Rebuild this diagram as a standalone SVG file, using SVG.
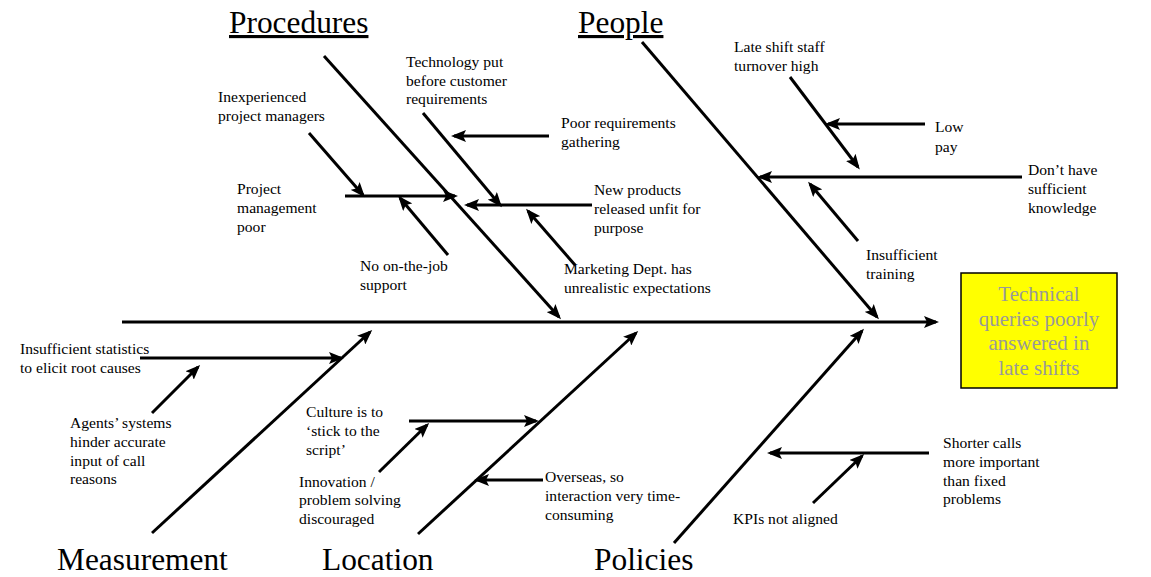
<svg xmlns="http://www.w3.org/2000/svg" width="1151" height="577" viewBox="0 0 1151 577">
<defs>
<style>
.t{font-family:"Liberation Serif","Times New Roman",serif;font-size:15.6px;fill:#000}
.cat{font-family:"Liberation Serif","Times New Roman",serif;font-size:31.4px;fill:#000}
.eff{font-family:"Liberation Serif","Times New Roman",serif;font-size:21px;fill:#999;text-anchor:middle}
.b{stroke:#000;stroke-width:3;fill:none;marker-end:url(#ah)}
</style>
<marker id="ah" markerUnits="userSpaceOnUse" markerWidth="15" markerHeight="12" refX="12" refY="6" orient="auto" viewBox="0 0 15 12">
<path d="M0,0 L15,6 L0,12 L3,6 z" fill="#000"/>
</marker>
</defs>
<rect width="1151" height="577" fill="#fff"/>
<g id="connectors">
<line class="b" x1="122" y1="322" x2="936" y2="322"/>
<line class="b" x1="324" y1="56" x2="559" y2="317"/>
<line class="b" x1="642" y1="42" x2="877" y2="317"/>
<line class="b" x1="152" y1="533" x2="370" y2="332"/>
<line class="b" x1="418" y1="534" x2="636" y2="333"/>
<line class="b" x1="674" y1="543" x2="862" y2="331"/>
<line class="b" x1="345" y1="196" x2="455" y2="196"/>
<line class="b" x1="309" y1="133" x2="363" y2="195"/>
<line class="b" x1="448" y1="255" x2="400" y2="198"/>
<line class="b" x1="592" y1="205" x2="467" y2="205"/>
<line class="b" x1="423" y1="113" x2="500" y2="205"/>
<line class="b" x1="549" y1="136" x2="454" y2="136"/>
<line class="b" x1="575" y1="265" x2="528" y2="211"/>
<line class="b" x1="790" y1="77" x2="858" y2="167"/>
<line class="b" x1="925" y1="124" x2="828" y2="124"/>
<line class="b" x1="1022" y1="177" x2="760" y2="177"/>
<line class="b" x1="858" y1="241" x2="810" y2="184"/>
<line class="b" x1="140" y1="358" x2="341" y2="358"/>
<line class="b" x1="152" y1="413" x2="198" y2="367"/>
<line class="b" x1="409" y1="421" x2="536" y2="421"/>
<line class="b" x1="379" y1="472" x2="427" y2="425"/>
<line class="b" x1="543" y1="480" x2="477" y2="480"/>
<line class="b" x1="929" y1="453" x2="770" y2="453"/>
<line class="b" x1="813" y1="503" x2="862" y2="456"/>
</g>
<g id="effect">
<rect x="961" y="273" width="156" height="115" fill="#ffff00" stroke="#000" stroke-width="1.5"/>
<text class="eff" x="1039" y="301">Technical</text>
<text class="eff" x="1039" y="326">queries poorly</text>
<text class="eff" x="1039" y="350">answered in</text>
<text class="eff" x="1039" y="375">late shifts</text>
</g>
<g id="cat-procedures"><text class="cat" x="229" y="33" text-decoration="underline">Procedures</text></g>
<g id="cat-people"><text class="cat" x="578" y="33" text-decoration="underline">People</text></g>
<g id="cat-measurement"><text class="cat" x="57" y="570">Measurement</text></g>
<g id="cat-location"><text class="cat" x="322" y="570">Location</text></g>
<g id="cat-policies"><text class="cat" x="594" y="570">Policies</text></g>
<g id="c-tech"><text class="t"><tspan x="406" y="67">Technology put</tspan><tspan x="406" y="86">before customer</tspan><tspan x="406" y="104">requirements</tspan></text></g>
<g id="c-inexp"><text class="t"><tspan x="218" y="102">Inexperienced</tspan><tspan x="218" y="121">project managers</tspan></text></g>
<g id="c-poorreq"><text class="t"><tspan x="561" y="128">Poor requirements</tspan><tspan x="561" y="147">gathering</tspan></text></g>
<g id="c-pm"><text class="t"><tspan x="237" y="194">Project</tspan><tspan x="237" y="213">management</tspan><tspan x="237" y="232">poor</tspan></text></g>
<g id="c-newprod"><text class="t"><tspan x="594" y="195">New products</tspan><tspan x="594" y="214">released unfit for</tspan><tspan x="594" y="233">purpose</tspan></text></g>
<g id="c-nojob"><text class="t"><tspan x="360" y="271">No on-the-job</tspan><tspan x="360" y="290">support</tspan></text></g>
<g id="c-mkt"><text class="t"><tspan x="564" y="274">Marketing Dept. has</tspan><tspan x="564" y="293">unrealistic expectations</tspan></text></g>
<g id="c-late"><text class="t"><tspan x="734" y="52">Late shift staff</tspan><tspan x="734" y="71">turnover high</tspan></text></g>
<g id="c-lowpay"><text class="t"><tspan x="935" y="132">Low</tspan><tspan x="935" y="152">pay</tspan></text></g>
<g id="c-know"><text class="t"><tspan x="1028" y="175">Don’t have</tspan><tspan x="1028" y="194">sufficient</tspan><tspan x="1028" y="213">knowledge</tspan></text></g>
<g id="c-train"><text class="t"><tspan x="866" y="260">Insufficient</tspan><tspan x="866" y="279">training</tspan></text></g>
<g id="c-stats"><text class="t"><tspan x="20" y="354">Insufficient statistics</tspan><tspan x="20" y="373">to elicit root causes</tspan></text></g>
<g id="c-agents"><text class="t"><tspan x="70" y="428">Agents’ systems</tspan><tspan x="70" y="447">hinder accurate</tspan><tspan x="70" y="466">input of call</tspan><tspan x="70" y="484">reasons</tspan></text></g>
<g id="c-culture"><text class="t"><tspan x="306" y="417">Culture is to</tspan><tspan x="306" y="436">‘stick to the</tspan><tspan x="306" y="455">script’</tspan></text></g>
<g id="c-innov"><text class="t"><tspan x="299" y="487">Innovation /</tspan><tspan x="299" y="505">problem solving</tspan><tspan x="299" y="524">discouraged</tspan></text></g>
<g id="c-overseas"><text class="t"><tspan x="545" y="482">Overseas, so</tspan><tspan x="545" y="501">interaction very time-</tspan><tspan x="545" y="520">consuming</tspan></text></g>
<g id="c-kpi"><text class="t"><tspan x="733" y="524">KPIs not aligned</tspan></text></g>
<g id="c-shorter"><text class="t"><tspan x="943" y="448">Shorter calls</tspan><tspan x="943" y="467">more important</tspan><tspan x="943" y="486">than fixed</tspan><tspan x="943" y="504">problems</tspan></text></g>
</svg>
